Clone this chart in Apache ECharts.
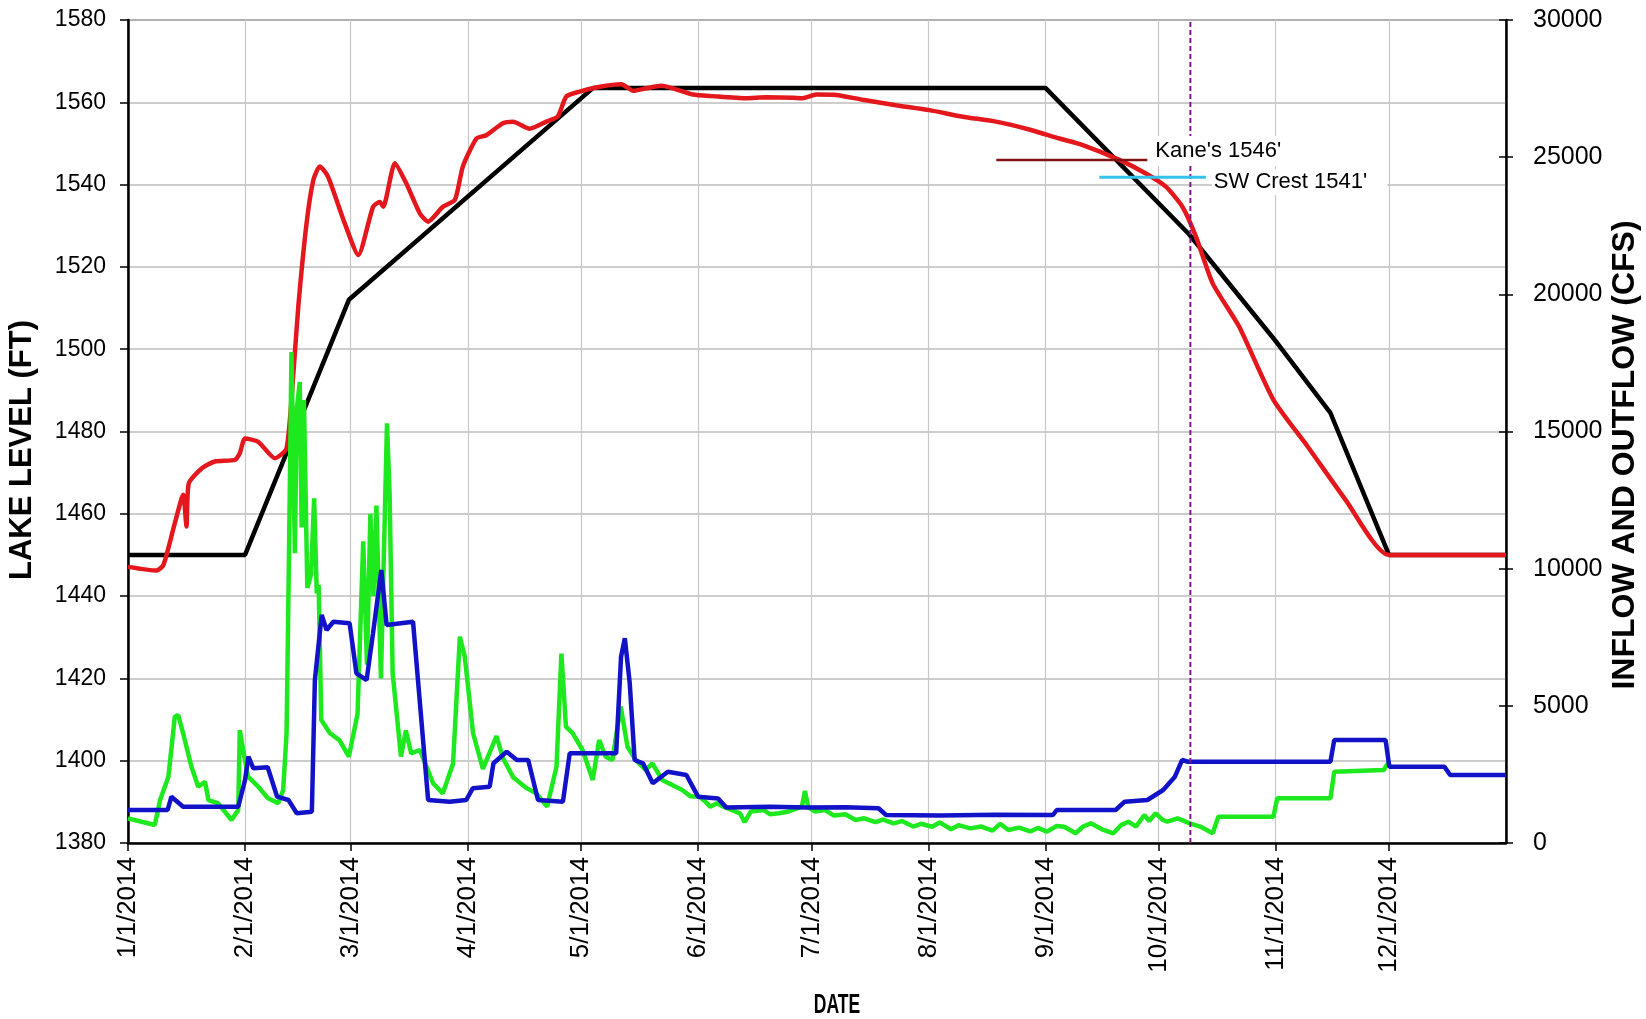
<!DOCTYPE html>
<html>
<head>
<meta charset="utf-8">
<script src="https://cdn.jsdelivr.net/npm/echarts@6/dist/echarts.min.js"></script>
<style>
  html, body { margin: 0; padding: 0; background: #fff; }
  #chart { width: 1646px; height: 1019px; }
</style>
</head>
<body>
<div id="chart"></div>
<script>
// ---- X axis (day of year 2014, 0 = 1/1/2014) ----
const MONTH_DAYS   = [0, 31, 59, 90, 120, 151, 181, 212, 243, 273, 304, 334];
const MONTH_LABELS = ['1/1/2014','2/1/2014','3/1/2014','4/1/2014','5/1/2014','6/1/2014',
                      '7/1/2014','8/1/2014','9/1/2014','10/1/2014','11/1/2014','12/1/2014'];
const X_MIN = 0, X_MAX = 365;

// ---- Y axes ----
const LEVEL_MIN = 1380, LEVEL_MAX = 1580, LEVEL_STEP = 20;
const FLOW_MIN = 0, FLOW_MAX = 30000, FLOW_STEP = 5000;

// ---- Target (rule) lake level, black ----
const ruleDay   = [0, 31, 58.5, 123.2, 243, 281, 304.4, 318.5, 334, 365];
const ruleLevel = [1450, 1450, 1512, 1563.5, 1563.5, 1528, 1501.5, 1484.5, 1450, 1450];

// ---- Actual lake level, red ----
const levelDay = [0, 7.6, 9.4, 12.4, 14.6, 15.5, 16.1, 19.5, 23, 28.3, 29.6, 31, 34.5, 38.9, 42,
  43.8, 45.1, 47.3, 49.1, 50.8, 53, 57.4, 61, 64.9, 66.7, 67.6, 70.7, 73.7, 77.3, 79.5, 83.4,
  86.6, 88.7, 92.3, 94.9, 99.3, 102, 106.4, 110.8, 113.8, 116.1, 119.6, 125, 130.7, 133.8,
  137.3, 141.3, 144.3, 149.6, 154.9, 163.7, 169, 176.1, 178.7, 182.3, 187.6, 194.6, 203.4,
  212.3, 221.1, 229.9, 238.7, 246.7, 252.9, 262.6, 269.6, 274.9, 279.3, 282.9, 287.3, 294.3,
  303.4, 312.5, 322.5, 334, 365];
const levelFt = [1447.1, 1446.2, 1447.6, 1457.7, 1464.6, 1456.9, 1467.4, 1471, 1472.7, 1473.1,
  1474.7, 1478.3, 1477.5, 1473.5, 1475.9, 1494.1, 1510.3, 1530.6, 1541.1, 1544.4, 1541.9, 1530.6,
  1522.9, 1534.6, 1535.8, 1534.6, 1545.2, 1540.3, 1533, 1531, 1534.6, 1536.3, 1544.4, 1551.2,
  1552, 1554.9, 1555.3, 1553.6, 1555.3, 1556.5, 1561.4, 1562.6, 1563.8, 1564.4, 1562.8, 1563.4,
  1564, 1563.4, 1561.9, 1561.5, 1561, 1561.2, 1561.1, 1561, 1561.9, 1561.8, 1560.6, 1559.3,
  1558.1, 1556.5, 1555.3, 1553.4, 1551.2, 1549.6, 1546, 1542.7, 1539.5, 1534.6, 1527.3, 1516,
  1505.5, 1487.7, 1476.3, 1463.4, 1450, 1450];

// ---- Inflow (CFS), green ----
const inflowDay = [0, 3.6, 7.1, 8.5, 10.7, 12.4, 13.3, 14.6, 16.8, 18.6, 20.4, 21.3, 23.9, 27.4,
  29.2, 29.6, 30.5, 31.8, 34.5, 37.1, 39.8, 41.1, 42, 42.6, 43.3, 44.2, 44.7, 45.5, 46, 46.6,
  47.5, 48.5, 49.3, 50, 50.5, 51.2, 53.5, 56, 58.5, 60.8, 62.3, 63.3, 64.2, 65, 65.8, 67, 68.6,
  69.3, 70.1, 72.3, 73.6, 75, 77.3,
  80.8, 83.4, 86.1, 87.9, 89.2, 91.4, 94, 97.6, 99.3, 102, 105.6, 108.2, 111, 113.5, 114.8, 116,
  117.8, 120.4, 123.1, 124.8, 126.5, 128.3, 130.5, 132.3, 134.5, 137.1, 138.9, 141.5, 146.8,
  149, 151.4, 153, 154.2, 156, 157.7, 160, 162.1, 163.3, 165, 168.4, 170, 172.4, 175, 178.5,
  179.3, 180.2, 182, 184.6, 187, 190, 192.7, 195, 198, 200, 202.8, 205, 208, 210, 213, 215, 218,
  220, 223.1, 226, 229, 231, 233.2, 236, 239, 241, 243.4, 246, 248, 251, 253, 255, 258, 261,
  263, 265, 267, 269.2, 270.5, 272.2, 274, 275.3, 278, 281.3, 284, 287.3, 288.8, 303.4, 304.4,
  318.5, 319.5, 332.6, 334];
const inflowCfs = [900, 776, 656, 1567, 2417, 4604, 4666, 3999, 2781, 2052, 2234, 1567, 1446, 838,
  1203, 4119, 3390, 2417, 2052, 1628, 1446, 1932, 3999, 10071, 17900, 10560, 15800, 16800, 11500,
  16150, 9300, 9800, 12560, 9100, 9400, 4480, 4000, 3750, 3150, 4700, 11000, 6500, 12000, 9000,
  12300, 6000, 15300, 12700, 6200, 3150,
  4100, 3270, 3390, 2180, 1810, 2900, 7520, 6800, 4000, 2700, 3900, 3100, 2400, 2000, 1800, 1323,
  2780, 6900, 4240, 4000, 3390, 2296, 3754, 3146, 3025, 4968, 3510, 3025, 2661, 2905, 2296, 1932,
  1700, 1688, 1500, 1323, 1450, 1323, 1200, 1083, 760, 1150, 1203, 1050, 1083, 1150, 1323, 1900,
  1300, 1150, 1203, 1000, 1050, 838, 900, 760, 850, 717, 800, 600, 700, 594, 750, 500, 650, 534,
  600, 450, 700, 474, 560, 420, 550, 413, 620, 594, 354, 600, 717, 500, 354, 650, 776, 600, 1020,
  800, 1083, 850, 776, 900, 717, 600, 354, 959, 959, 1629, 1629, 2599, 2661, 2960];

// ---- Outflow (CFS), blue ----
const outflowDay = [0, 10.5, 11.5, 14.6, 29.2, 31, 31.9, 33.2, 37, 39.5, 42.5, 44.7, 48.7, 49.5,
  51.3, 52.6, 54.4, 58.7, 60.5, 63.2, 64.9, 67.1, 68.5, 75.5, 79.5, 85.2, 89.6, 91.3, 95.8, 96.8,
  100.3, 103, 106, 108.6, 115.2, 117, 123.2, 129.3, 130.6, 131.6, 132.9, 134.2, 136.4, 139, 143,
  147.9, 151, 156.3, 158.5, 170, 180, 190, 198.8, 200.8, 215, 230, 245, 246, 261.6, 264, 270,
  274.2, 277.3, 279.2, 280.8, 318.5, 319.5, 333.1, 334.1, 348.7, 350.2, 365];
const outflowCfs = [1203, 1203, 1688, 1323, 1323, 2296, 3146, 2722, 2759, 1688, 1567, 1083, 1141,
  5941, 8311, 7764, 8066, 8008, 6186, 5941, 7644, 9951, 7946, 8066, 1567, 1505, 1567, 1994, 2052,
  2905, 3328, 3025, 3025, 1567, 1505, 3270, 3270, 3270, 6791, 7461, 5821, 3025, 2905, 2176, 2599,
  2478, 1688, 1620, 1290, 1320, 1290, 1300, 1265, 1020, 1000, 1030, 1020, 1203, 1203, 1505, 1567,
  1932, 2417, 3025, 2963, 2963, 3754, 3754, 2781, 2781, 2478, 2478];

// ---- Reference levels and marker ----
const kaneDay = [230, 270];    const kaneLevel = [1546, 1546];
const crestDay = [257.3, 285.5]; const crestLevel = [1541.8, 1541.8];
const markerDay = [281.4];
const KANE_LABEL = "Kane's 1546'";
const CREST_LABEL = "SW Crest 1541'";

const zip = (xs, ys) => xs.map((x, i) => [x, ys[i]]);
const FONT = "'Liberation Sans', Arial, sans-serif";

const chart = echarts.init(document.getElementById('chart'), null, { renderer: 'canvas' });

const option = {
  animation: false,
  backgroundColor: '#ffffff',
  grid: { left: 128, right: 140, top: 20, bottom: 176, show: true, borderColor: '#8c8c8c', borderWidth: 2, backgroundColor: 'transparent' },
  xAxis: {
    type: 'value', min: X_MIN, max: X_MAX,
    axisLine: { lineStyle: { color: '#000', width: 2.5 } },
    axisTick: { show: true, inside: false, length: 8, customValues: MONTH_DAYS, lineStyle: { color: '#000', width: 1.5 } },
    axisLabel: {
      customValues: MONTH_DAYS, rotate: 90, margin: 14, fontSize: 26, color: '#000', fontFamily: FONT,
      formatter: v => { const i = MONTH_DAYS.indexOf(Math.round(v)); return i >= 0 ? MONTH_LABELS[i] : ''; }
    },
    splitLine: { show: true, lineStyle: { color: '#c8c8c8', width: 1.2 } }
  },
  yAxis: [
    {
      type: 'value', min: LEVEL_MIN, max: LEVEL_MAX, interval: LEVEL_STEP, position: 'left',
      axisLine: { show: true, lineStyle: { color: '#000', width: 2.5 } },
      axisTick: { show: true, length: 8, lineStyle: { color: '#000', width: 1.5 } },
      axisLabel: { fontSize: 23, color: '#000', margin: 22, fontFamily: FONT, formatter: v => String(v) },
      splitLine: { show: true, lineStyle: { color: '#bdbdbd', width: 1.5 } }
    },
    {
      type: 'value', min: FLOW_MIN, max: FLOW_MAX, interval: FLOW_STEP, position: 'right',
      axisLine: { show: true, lineStyle: { color: '#000', width: 2.5 } },
      axisTick: { show: true, length: 7, lineStyle: { color: '#000', width: 1.5 } },
      axisLabel: { fontSize: 25, color: '#000', margin: 27, fontFamily: FONT, formatter: v => String(v) },
      splitLine: { show: false }
    },
    {
      // inner half of the crossing tick marks on the right axis
      type: 'value', min: FLOW_MIN, max: FLOW_MAX, interval: FLOW_STEP, position: 'right',
      axisLine: { show: false },
      axisTick: { show: true, inside: true, length: 7, lineStyle: { color: '#000', width: 1.5 } },
      axisLabel: { show: false },
      splitLine: { show: false }
    }
  ],
  series: [
    {
      name: 'Target', type: 'line', yAxisIndex: 0, data: zip(ruleDay, ruleLevel), showSymbol: false, z: 2,
      lineStyle: { color: '#000000', width: 4.5 }
    },
    {
      name: 'Lake level', type: 'line', yAxisIndex: 0, data: zip(levelDay, levelFt), showSymbol: false, z: 3,
      smooth: 0.2, lineStyle: { color: '#e3171c', width: 4.5 }
    },
    {
      name: 'Inflow', type: 'line', yAxisIndex: 1, data: zip(inflowDay, inflowCfs), showSymbol: false, z: 4,
      lineStyle: { color: '#1ee81e', width: 4.5 }
    },
    {
      name: 'Outflow', type: 'line', yAxisIndex: 1, data: zip(outflowDay, outflowCfs), showSymbol: false, z: 5,
      lineStyle: { color: '#1212c8', width: 4.5 }
    },
    {
      name: 'Marker', type: 'line', yAxisIndex: 0, showSymbol: false, z: 6,
      data: [[markerDay[0], LEVEL_MIN], [markerDay[0], LEVEL_MAX]],
      lineStyle: { color: '#7d1a86', width: 2, type: [5, 3] }
    },
    {
      name: 'Kane', type: 'line', yAxisIndex: 0, data: zip(kaneDay, kaneLevel), showSymbol: false, z: 7,
      lineStyle: { color: '#7e1414', width: 2.5 },
      endLabel: { show: true, formatter: KANE_LABEL, fontSize: 22, color: '#000', fontFamily: FONT,
        distance: 6, offset: [0, -9], backgroundColor: '#fff', padding: [4, 6, 4, 2] }
    },
    {
      name: 'Crest', type: 'line', yAxisIndex: 0, data: zip(crestDay, crestLevel), showSymbol: false, z: 7,
      lineStyle: { color: '#35c2e8', width: 3 },
      endLabel: { show: true, formatter: CREST_LABEL, fontSize: 22, color: '#000', fontFamily: FONT,
        distance: 6, offset: [0, 5], backgroundColor: '#fff', padding: [2, 20, 2, 2] }
    }
  ],
  graphic: [
    { type: 'text', x: 22, y: 450, rotation: Math.PI / 2,
      style: { text: 'LAKE LEVEL (FT)', font: "bold 31px 'Liberation Sans', Arial, sans-serif", fill: '#000', align: 'center', verticalAlign: 'middle' } },
    { type: 'text', x: 1625, y: 455, rotation: Math.PI / 2,
      style: { text: 'INFLOW AND OUTFLOW (CFS)', font: "bold 32px 'Liberation Sans', Arial, sans-serif", fill: '#000', align: 'center', verticalAlign: 'middle' } },
    { type: 'text', x: 837, y: 1006, scaleX: 0.65,
      style: { text: 'DATE', font: "bold 27px 'Liberation Sans', Arial, sans-serif", fill: '#000', align: 'center', verticalAlign: 'middle' } }
  ]
};
chart.setOption(option);
</script>
</body>
</html>
